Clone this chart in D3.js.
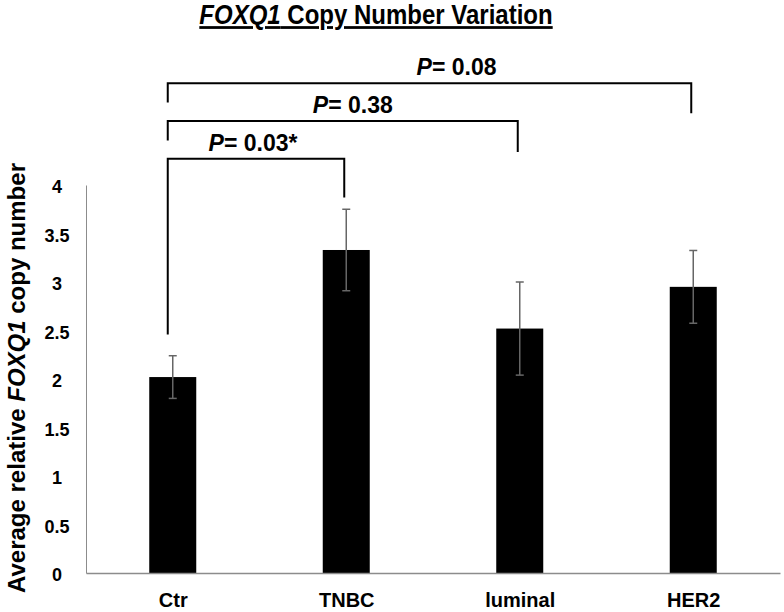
<!DOCTYPE html>
<html>
<head>
<meta charset="utf-8">
<script src="https://cdn.jsdelivr.net/npm/d3@7"></script>
<style>
  body { margin: 0; background: #fff; }
  svg { font-family: "Liberation Sans", Arial, sans-serif; font-weight: bold; }
</style>
</head>
<body>
<div id="graph"></div>
<script>
// Données
const categories = ["Ctr", "TNBC", "luminal", "HER2"];
const means = [2.02, 3.33, 2.52, 2.95];
const errors = [0.22, 0.42, 0.48, 0.375];
const yTicks = [0, 0.5, 1, 1.5, 2, 2.5, 3, 3.5, 4];

// Comparaisons (Ctr contre chaque groupe)
const compTargets = ["TNBC", "luminal", "HER2"];
const compPValues = ["0.03*", "0.38", "0.08"];
const compLevels = [4.27, 4.66, 5.05];     // hauteur de la barre horizontale
const compRightEnds = [3.87, 4.34, 4.74];  // bas du trait droit
const compLeftEnds = [2.46, 4.46, 4.85];   // bas du trait gauche

const width = 784, height = 612;

const svg = d3.select("#graph")
  .append("svg")
  .attr("width", width)
  .attr("height", height);

// Échelles
const x = d3.scalePoint().domain(categories).range([86, 780]).padding(0.5);
const y = d3.scaleLinear().domain([0, 4]).range([573, 185]);
const barWidth = 47;

// Titre
const title = svg.append("text")
  .attr("transform", "translate(376,24) scale(1,1.15)")
  .attr("text-anchor", "middle")
  .style("font-size", "24px")
  .style("text-decoration", "underline");
title.append("tspan").style("font-style", "italic").text("FOXQ1");
title.append("tspan").text(" Copy Number Variation");

// Axe Y
const yAxis = svg.append("g")
  .attr("transform", "translate(86,0)")
  .call(d3.axisLeft(y).tickValues(yTicks).tickSize(0).tickPadding(29).tickFormat(d3.format("")));
yAxis.select(".domain").attr("stroke", "#8c8c8c").attr("stroke-width", 1);
yAxis.selectAll("text")
  .attr("text-anchor", "middle")
  .attr("dy", "0.42em")
  .style("font-size", "18px")
  .style("font-family", "Liberation Sans, Arial, sans-serif")
  .style("font-weight", "bold")
  .attr("fill", "#000");

// Titre de l'axe Y
const yLabel = svg.append("text")
  .attr("transform", "translate(25,378) rotate(-90)")
  .attr("text-anchor", "middle")
  .style("font-size", "24px");
yLabel.append("tspan").text("Average relative ");
yLabel.append("tspan").style("font-style", "italic").text("FOXQ1");
yLabel.append("tspan").text(" copy number");

// Barres
svg.selectAll(".bar")
  .data(categories)
  .enter()
  .append("rect")
  .attr("class", "bar")
  .attr("x", d => x(d) - barWidth / 2)
  .attr("y", (d, i) => y(means[i]))
  .attr("width", barWidth)
  .attr("height", (d, i) => y(0) - y(means[i]))
  .attr("fill", "#000");

// Axe X
const xAxis = svg.append("g")
  .attr("transform", `translate(0,${y(0)})`)
  .call(d3.axisBottom(x).tickSize(0).tickPadding(20));
xAxis.select(".domain").attr("stroke", "#8c8c8c").attr("stroke-width", 1.5);
xAxis.selectAll("text")
  .attr("dy", "0.71em")
  .style("font-size", "20px")
  .style("font-family", "Liberation Sans, Arial, sans-serif")
  .style("font-weight", "bold")
  .attr("fill", "#000");

// Barres d'erreur
const err = svg.selectAll(".err")
  .data(categories)
  .enter()
  .append("g")
  .attr("class", "err")
  .attr("stroke", "#666")
  .attr("stroke-width", 1.5);
err.append("line")
  .attr("x1", d => x(d)).attr("x2", d => x(d))
  .attr("y1", (d, i) => y(means[i] + errors[i]))
  .attr("y2", (d, i) => y(means[i] - errors[i]));
err.append("line")
  .attr("x1", d => x(d) - 4).attr("x2", d => x(d) + 4)
  .attr("y1", (d, i) => y(means[i] + errors[i]))
  .attr("y2", (d, i) => y(means[i] + errors[i]));
err.append("line")
  .attr("x1", d => x(d) - 4).attr("x2", d => x(d) + 4)
  .attr("y1", (d, i) => y(means[i] - errors[i]))
  .attr("y2", (d, i) => y(means[i] - errors[i]));

// Crochets de significativité
const labelShift = [-3, 10, 27];
const xLeft = x("Ctr") - 5;
compTargets.forEach((t, i) => {
  const xr = x(t) - 2;
  svg.append("path")
    .attr("d", `M${xLeft},${y(compLeftEnds[i])}V${y(compLevels[i])}H${xr}V${y(compRightEnds[i])}`)
    .attr("fill", "none")
    .attr("stroke", "#000")
    .attr("stroke-width", 2);

  const lab = svg.append("text")
    .attr("x", (xLeft + xr) / 2 + labelShift[i])
    .attr("y", y(compLevels[i]) - 8)
    .attr("text-anchor", "middle")
    .style("font-size", "23px");
  lab.append("tspan").style("font-style", "italic").text("P");
  lab.append("tspan").text("= " + compPValues[i]);
});
</script>
</body>
</html>
